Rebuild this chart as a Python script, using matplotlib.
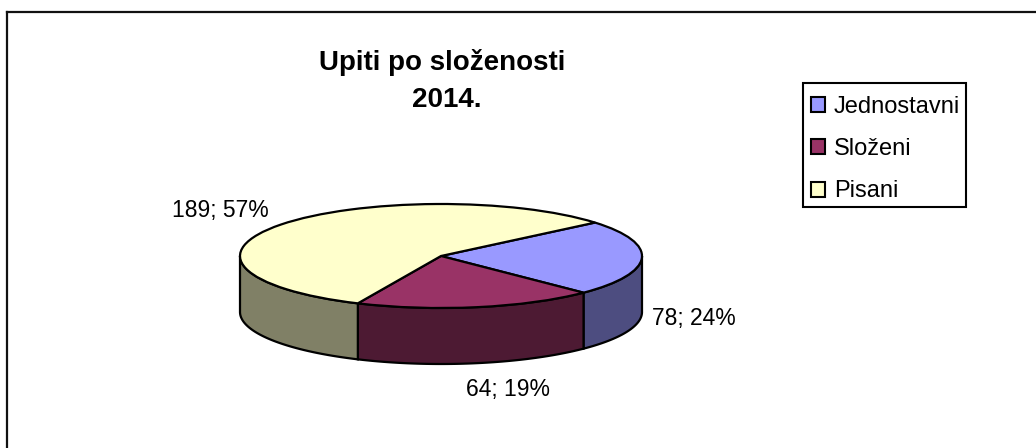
import numpy as np
import matplotlib
matplotlib.use('Agg')
import matplotlib.pyplot as plt
from matplotlib.patches import Patch, Rectangle

plt.rcParams['font.family'] = ['Liberation Sans', 'DejaVu Sans']

categories = ['Jednostavni', 'Složeni', 'Pisani']
values = [78, 64, 189]
top_colors = ['#9999FF', '#993366', '#FFFFCC']
side_colors = ['#4D4D80', '#4D1A33', '#808066']

W, H = 1036, 448
fig = plt.figure(figsize=(W / 100, H / 100), dpi=100, facecolor='white')

# pixel positions of the pie ellipse
cx, cy, rx, ry, wall = 441, 256, 201, 52, 56
depth = wall / ry
ax = fig.add_axes([(cx - rx) / W, 1 - (cy + ry + wall) / H, 2 * rx / W, (2 * ry + wall) / H])

start = 40
ax.pie(values, colors=top_colors, startangle=start, counterclock=False, radius=1,
       wedgeprops={'edgecolor': 'black', 'linewidth': 1.6, 'zorder': 3})
ax.set_aspect('auto')
ax.set_xlim(-1, 1)
ax.set_ylim(-1 - depth, 1)
ax.axis('off')

# side walls, only the front half of the rim is visible
shares = np.array(values) / sum(values) * 360
angle = start
for share, col in zip(shares, side_colors):
    a0, a1 = angle - share, angle
    angle = a0
    lo, hi = max(a0, -180), min(a1, 0)
    if hi <= lo:
        continue
    t = np.radians(np.linspace(lo, hi, 80))
    xs = np.cos(t)
    ys = np.sin(t)
    px = np.r_[xs, xs[::-1]]
    py = np.r_[ys, ys[::-1] - depth]
    ax.fill(px, py, facecolor=col, edgecolor='black', linewidth=1.6, zorder=2, clip_on=False)

for c in ax.patches:
    c.set_clip_on(False)

# chart frame, open at the right and bottom like the source crop
fig.add_artist(plt.Line2D([7 / W, 7 / W], [0, 1 - 12.5 / H], color='#111111', lw=1.6))
fig.add_artist(plt.Line2D([7 / W, 1], [1 - 12.5 / H, 1 - 12.5 / H], color='#111111', lw=1.6))

fig.text(442 / W, 1 - 62 / H, 'Upiti po složenosti', ha='center', va='center',
         fontsize=20, fontweight='bold')
fig.text(447 / W, 1 - 100 / H, '2014.', ha='center', va='center',
         fontsize=20, fontweight='bold')

label_pos = [(694, 319), (508, 389), (220, 210)]
total = sum(values)
for v, (x, y) in zip(values, label_pos):
    fig.text(x / W, 1 - y / H, f'{v}; {round(v / total * 100)}%', ha='center', va='center',
             fontsize=16.5, color='black')

# legend box drawn on its own so the rows can sit lower inside it
fig.add_artist(Rectangle((803 / W, 1 - 207 / H), 163 / W, 124 / H, transform=fig.transFigure,
                         facecolor='white', edgecolor='black', linewidth=1.5))
handles = [Patch(facecolor=c, edgecolor='black', linewidth=1.5) for c in top_colors]
leg = fig.legend(handles, categories, loc='upper left',
                 bbox_to_anchor=(803 / W, 1 - 88 / H), bbox_transform=fig.transFigure,
                 fontsize=17, frameon=False, borderaxespad=0, borderpad=0.33, labelspacing=0.86,
                 handlelength=0.6, handleheight=0.6, handletextpad=0.38)
leg.set_zorder(5)

fig.savefig('out.png', dpi=100)
